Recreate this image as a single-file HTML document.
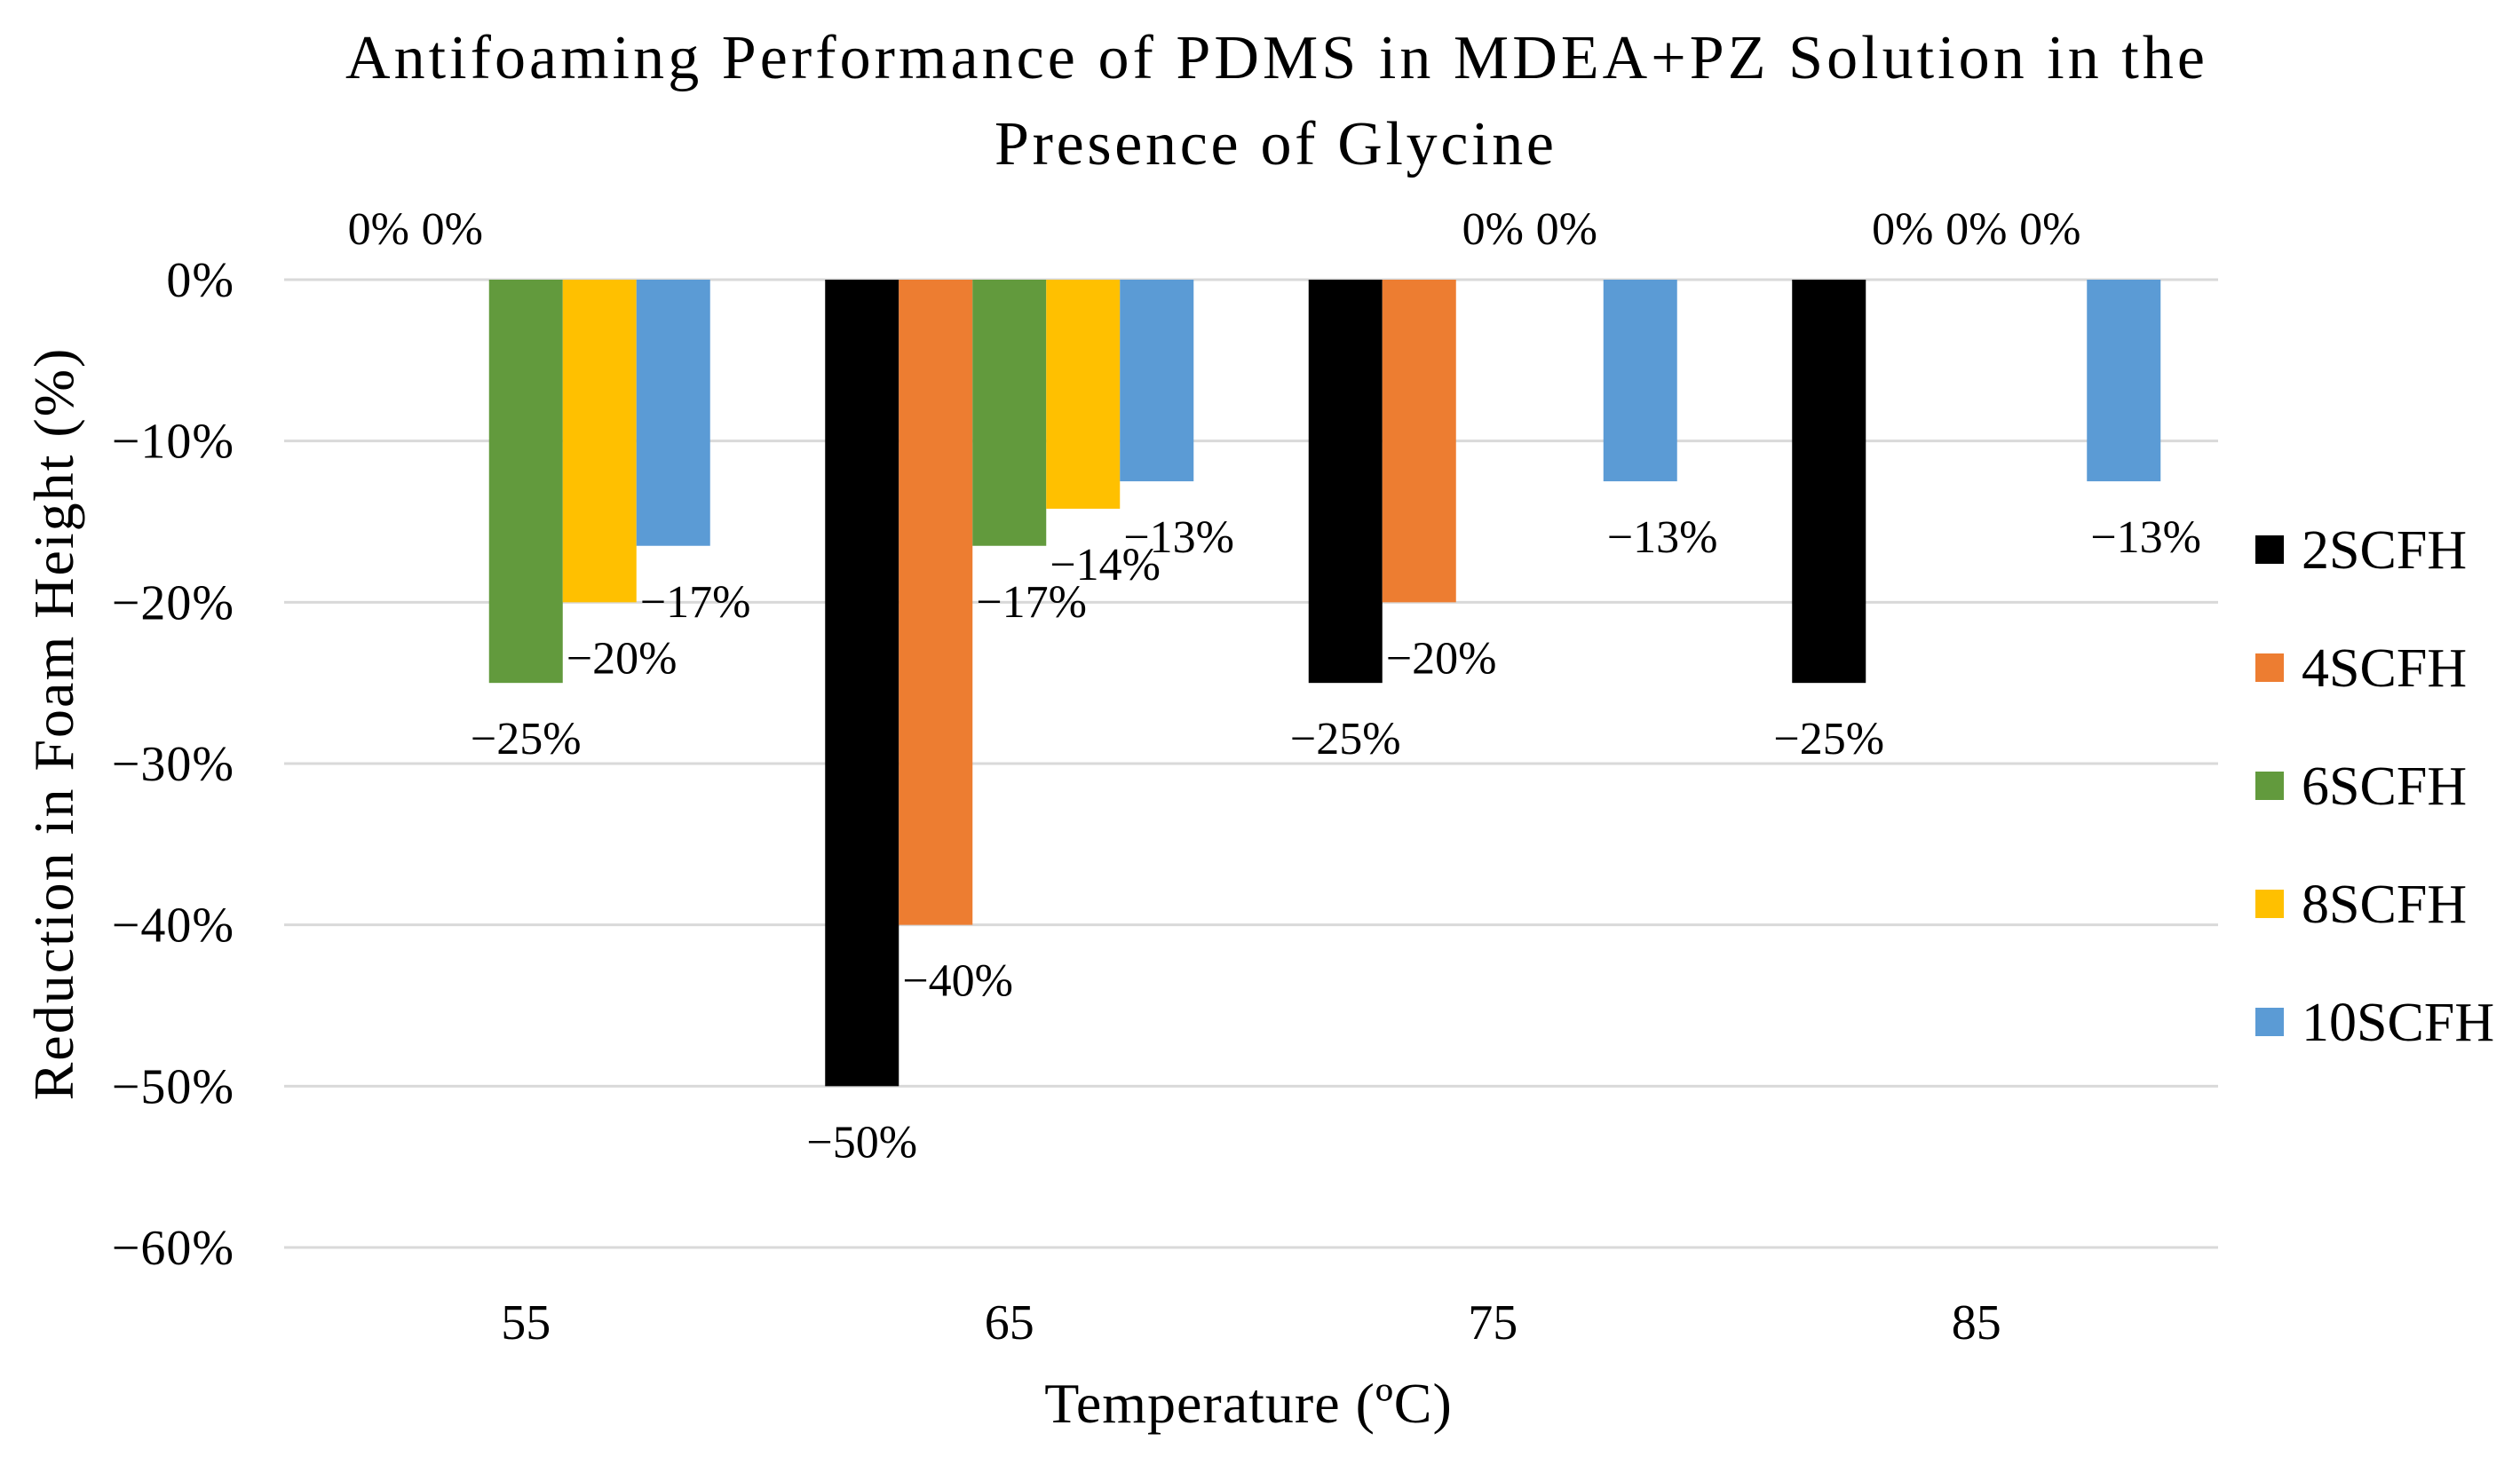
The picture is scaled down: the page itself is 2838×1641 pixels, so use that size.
<!DOCTYPE html>
<html><head><meta charset="utf-8"><style>
html,body{margin:0;padding:0;background:#fff;}
svg{display:block;font-family:"Liberation Serif",serif;}
</style></head><body>
<svg id="chart" width="2838" height="1641" viewBox="0 0 2838 1641">
<text x="389" y="88" font-size="70" textLength="2094" lengthAdjust="spacing">Antifoaming Performance of PDMS in MDEA+PZ Solution in the</text>
<text x="1120" y="185" font-size="70" textLength="630" lengthAdjust="spacing">Presence of Glycine</text>
<g id="grid"></g><g id="bars"></g><g id="labels"></g><g id="axes"></g><g id="legend"></g>
<text x="1406" y="1602" font-size="64" text-anchor="middle" letter-spacing="1">Temperature (ºC)</text>
<text transform="translate(82,815) rotate(-90)" font-size="64" text-anchor="middle" letter-spacing="2">Reduction in Foam Height (%)</text>
</svg>
<script>
const categories=["55","65","75","85"];
const seriesNames=["2SCFH","4SCFH","6SCFH","8SCFH","10SCFH"];
const colors=["#000000","#ED7D31","#629A3D","#FFC000","#5B9BD5"];
const s2=[0,-50,-25,-25];
const s4=[0,-40,-20,0];
const s6=[-25,-16.5,0,0];
const s8=[-20,-14.2,0,0];
const s10=[-16.5,-12.5,-12.5,-12.5];
const valueLabels=[["0%","−50%","−25%","−25%"],["0%","−40%","−20%","0%"],["−25%","−17%","0%","0%"],["−20%","−14%","0%","0%"],["−17%","−13%","−13%","−13%"]];
const yTicks=[0,-10,-20,-30,-40,-50,-60];
const yTickLabels=["0%","−10%","−20%","−30%","−40%","−50%","−60%"];
const series=[s2,s4,s6,s8,s10];
const NS="http://www.w3.org/2000/svg";
const L=320,R=2498,T=315,B=1405;
const y=v=>T+(0-v)/60*(B-T);
const catW=(R-L)/categories.length;
const bw=83;
const xc=i=>L+catW*(i+0.5);
function mk(tag,attrs,parent,txt){const e=document.createElementNS(NS,tag);for(const k in attrs)e.setAttribute(k,attrs[k]);if(txt!==undefined)e.textContent=txt;document.getElementById(parent).appendChild(e);return e;}
yTicks.forEach((t,i)=>{
 const g=mk('line',{x1:L,x2:R,y1:y(t),y2:y(t),stroke:'#d9d9d9','stroke-width':3},'grid');
 
 
 const tl=mk('text',{x:264,y:y(t)+19,'font-size':56,'text-anchor':'end','letter-spacing':1},'axes',yTickLabels[i]);
 
 
});
categories.forEach((c,i)=>{
 const tl=mk('text',{x:xc(i),y:1508,'font-size':56,'text-anchor':'middle'},'axes',c);
 
 
 let first=true;
 series.forEach((s,j)=>{
  const v=s[i];const x0=xc(i)-bw*2.5+bw*j;
  if(v<0){
   const r=mk('rect',{x:x0,y:y(0),width:bw,height:y(v)-y(0),fill:colors[j]},'bars');
   
   
   const dx=first?0:bw*0.3;first=false;
   const lb=mk('text',{x:x0+bw/2+dx,y:y(v)+80,'font-size':52,'text-anchor':'middle'},'labels',valueLabels[j][i]);
   
   
  }else{
   const lb=mk('text',{x:x0+bw/2,y:y(0)-40,'font-size':52,'text-anchor':'middle'},'labels',valueLabels[j][i]);
   
   
  }
 });
});
seriesNames.forEach((n,j)=>{
 const yy=619+j*133;
 const sq=mk('rect',{x:2540,y:yy-16,width:32,height:32,fill:colors[j]},'legend');
 
 
 const t=mk('text',{x:2592,y:yy+21,'font-size':62},'legend',n);
 
 
});
</script>
</body></html>
